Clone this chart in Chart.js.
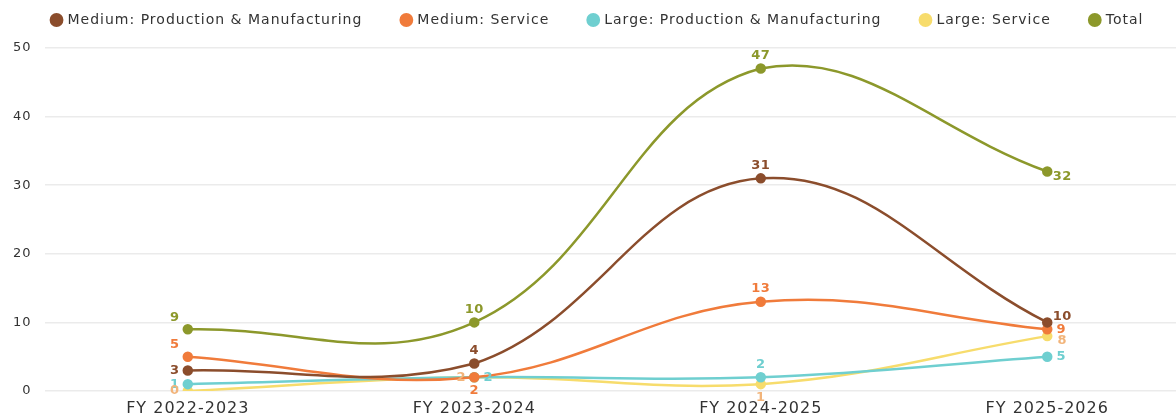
<!DOCTYPE html>
<html>
<head>
<meta charset="utf-8">
<script src="https://cdn.jsdelivr.net/npm/chart.js@4"></script>
<style>
  html, body { margin: 0; padding: 0; background: #fff; overflow: hidden; }
  #wrap { width: 1197px; height: 416px; }
</style>
</head>
<body>
<div id="wrap"><canvas id="mainChart"></canvas></div>
<script>
// Categories and series
const years = ['FY 2022-2023', 'FY 2023-2024', 'FY 2024-2025', 'FY 2025-2026'];
const mediumProduction = [3, 4, 31, 10];
const mediumService = [5, 2, 13, 9];
const largeProduction = [1, 2, 2, 5];
const largeService = [0, 2, 1, 8];
const totals = [9, 10, 47, 32];
const yTicks = [0, 10, 20, 30, 40, 50];

// where each value label sits relative to its point
const labelSpots = {
  medProd: ['left', 'top', 'top', 'righttop'],
  medServ: ['topleft', 'bottom', 'top', 'right'],
  lrgProd: ['left', 'right', 'top', 'right'],
  lrgServ: ['left', 'left', 'bottom', 'rightdown'],
  total: ['topleft', 'top', 'top', 'rightdown']
};

const FONT = '"DejaVu Sans", sans-serif';

function series(label, data, color, labelColor, spots) {
  return {
    label: label,
    data: data,
    borderColor: color,
    backgroundColor: color,
    pointBackgroundColor: color,
    pointBorderColor: color,
    pointRadius: 4,
    borderWidth: 2.5,
    tension: 0.4,
    fill: false,
    labelColor: labelColor,
    spots: spots
  };
}

// wider letter spacing for all chart text (canvas resize resets it, so set it again)
// and pull the legend row up closer to the top edge; its bottom stays put so nothing is clipped
const spacing = {
  id: 'spacing',
  beforeUpdate(chart) { chart.ctx.letterSpacing = '1px'; },
  beforeDraw(chart) { chart.ctx.letterSpacing = '1px'; },
  afterLayout(chart) {
    chart.legend.top -= 35;
  }
};

// Draws the value next to each point
const valueLabels = {
  id: 'valueLabels',
  afterDatasetsDraw(chart) {
    const ctx = chart.ctx;
    ctx.save();
    ctx.letterSpacing = '0.5px';
    ctx.font = 'bold 13px ' + FONT;
    chart.data.datasets.forEach((ds, i) => {
      const meta = chart.getDatasetMeta(i);
      meta.data.forEach((pt, j) => {
        const spot = ds.spots[j];
        let x = pt.x, y = pt.y;
        ctx.textAlign = 'center';
        ctx.textBaseline = 'middle';
        if (spot === 'top') { y -= 13; }
        else if (spot === 'bottom') { y += 13; }
        else if (spot === 'left') { x -= 13; }
        else if (spot === 'right') { x += 14; }
        else if (spot === 'topleft') { x -= 13; y -= 12; }
        else if (spot === 'righttop') { x += 15; y -= 6; }
        else if (spot === 'rightdown') { x += 15; y += 5; }
        ctx.fillStyle = ds.labelColor;
        ctx.fillText(ds.data[j], x, y);
      });
    });
    ctx.restore();
  }
};

const ctx = document.getElementById('mainChart').getContext('2d');
new Chart(ctx, {
  type: 'line',
  data: {
    labels: years,
    datasets: [
      series('Medium: Production & Manufacturing', mediumProduction, '#8b4d2c', '#8b4d2c', labelSpots.medProd),
      series('Medium: Service', mediumService, '#f07b3b', '#f07b3b', labelSpots.medServ),
      series('Large: Production & Manufacturing', largeProduction, '#6fcfd0', '#6fcfd0', labelSpots.lrgProd),
      series('Large: Service', largeService, '#f7dc6c', '#f2b47a', labelSpots.lrgServ),
      series('Total', totals, '#8c982b', '#8c982b', labelSpots.total)
    ]
  },
  options: {
    responsive: true,
    maintainAspectRatio: false,
    animation: false,
    layout: { padding: { left: 0, right: 1, top: 8, bottom: 0 } },
    plugins: {
      legend: {
        position: 'top',
        maxHeight: 40,
        labels: {
          usePointStyle: true,
          pointStyle: 'circle',
          boxWidth: 8,
          boxHeight: 8,
          padding: 40,
          color: '#333',
          font: { family: FONT, size: 14 }
        }
      },
      tooltip: { enabled: false }
    },
    scales: {
      x: {
        offset: true,
        grid: { display: false, drawTicks: false },
        border: { display: false },
        ticks: { color: '#333', padding: 8, font: { family: FONT, size: 16 } },
        afterFit: (scale) => { scale.height = 25; }
      },
      y: {
        min: 0,
        max: 50,
        afterBuildTicks: (axis) => { axis.ticks = yTicks.map(v => ({ value: v })); },
        grid: { color: '#ebebeb', lineWidth: 1.5, drawTicks: false },
        border: { display: false },
        ticks: { color: '#333', padding: 13, font: { family: FONT, size: 13 } }
      }
    }
  },
  plugins: [spacing, valueLabels]
});
</script>
</body>
</html>
